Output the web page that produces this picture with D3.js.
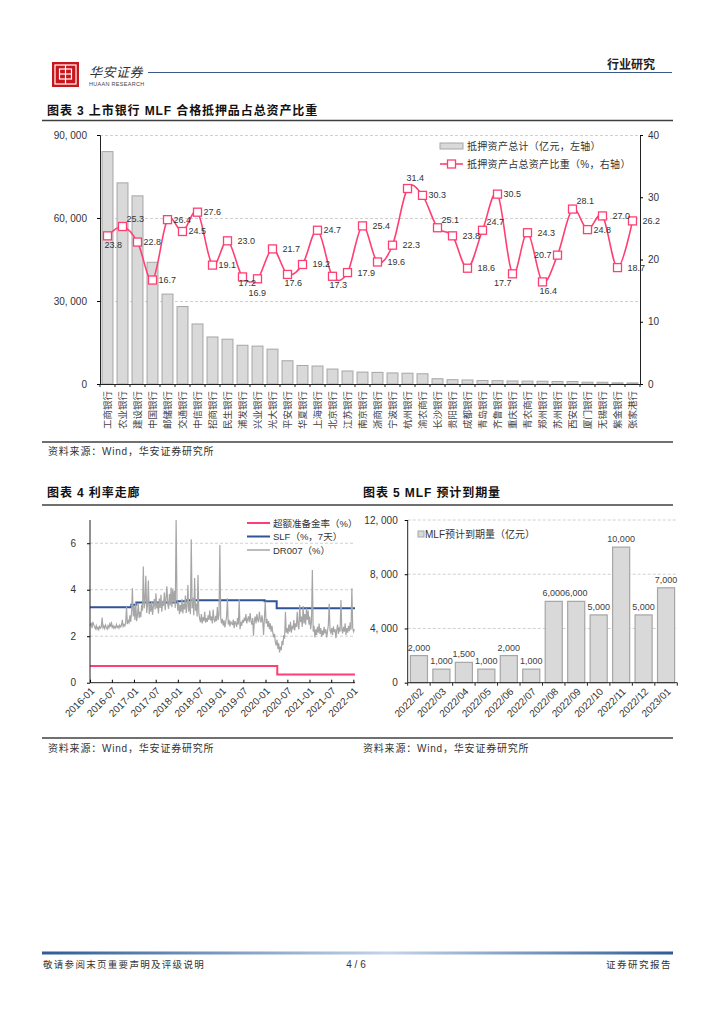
<!DOCTYPE html>
<html><head><meta charset="utf-8">
<script src="https://cdn.jsdelivr.net/npm/d3@7"></script>
<style>
body{margin:0;background:#fff}
svg{display:block}
text{font-family:"Liberation Sans",Arial,"Noto Sans CJK SC",sans-serif}
</style>
</head><body>
<svg id="c" width="724" height="1024"></svg>
<script>
// ---------- Chart 3 data ----------
const banks = ["工商银行","农业银行","建设银行","中国银行","邮储银行","交通银行","中信银行","招商银行","民生银行","浦发银行","兴业银行","光大银行","平安银行","华夏银行","上海银行","北京银行","江苏银行","南京银行","浙商银行","宁波银行","杭州银行","渝农商行","长沙银行","贵阳银行","成都银行","青岛银行","齐鲁银行","重庆银行","青农商行","郑州银行","苏州银行","西安银行","厦门银行","无锡银行","紫金银行","张家港行"];
const pledgeAssets = [84000,72700,68000,44000,32500,28000,21700,17000,16200,14000,13700,12600,8400,6700,6500,5400,4700,4300,4200,4000,3900,3700,1900,1550,1450,1250,1200,1100,1050,1000,900,880,650,620,420,400];
const pledgeRatio = [23.8,25.3,22.8,16.7,26.4,24.5,27.6,19.1,23.0,17.2,16.9,21.7,17.6,19.2,24.7,17.3,17.9,25.4,19.6,22.3,31.4,30.3,25.1,23.8,18.6,24.7,30.5,17.7,24.3,16.4,20.7,28.1,24.8,27.0,18.7,26.2];
const ratioLabelPlace = ["b","a","r","r","r","r","r","r","R","c","B","R","b","R","r","b","R","R","R","R","t","r","a","R","R","a","r","L","R","b","l","a","r","R","R","R"];
const leftTicks3 = [0,30000,60000,90000];
const rightTicks3 = [0,10,20,30,40];

// ---------- Chart 4 data ----------
const dr007FirstWeek = "2016-01-04";
const dr007Weekly = [
2.45,2.58,2.35,2.62,2.50,2.40,2.32,2.45,2.30,2.38,2.28,2.42,2.35,
2.40,2.80,2.36,2.44,2.33,2.48,2.38,2.30,2.45,2.36,2.52,2.40,2.62,
2.38,2.45,2.34,2.42,2.36,2.50,2.38,2.44,2.35,2.48,2.40,2.46,2.70,
2.42,2.50,2.44,2.58,3.27,2.52,2.66,2.58,2.90,2.62,3.05,4.06,2.85,
3.30,2.70,3.45,2.65,2.90,3.40,2.78,3.05,2.82,3.35,3.10,5.00,3.20,
3.55,4.60,3.00,3.35,4.40,2.95,3.40,3.05,3.50,2.92,3.30,3.60,3.15,
3.85,3.20,3.45,2.98,3.62,3.22,3.78,3.05,3.52,3.30,3.88,3.12,3.65,
4.15,3.40,3.18,3.82,3.32,4.10,3.25,4.05,3.45,3.95,3.22,7.00,3.60,
3.10,3.45,2.95,3.35,3.05,3.60,2.98,3.40,3.15,3.75,3.00,3.30,4.20,
3.05,3.50,2.95,6.17,3.20,3.65,2.90,4.50,3.10,3.40,2.85,4.63,3.00,
2.75,2.60,2.95,2.55,2.82,2.65,3.05,2.58,2.78,2.62,2.90,2.70,3.10,
2.68,2.85,2.55,3.15,2.72,2.60,2.88,2.65,3.25,2.70,2.95,5.92,2.80,
2.55,2.75,2.45,2.68,2.38,2.60,2.85,3.63,2.50,2.70,2.42,2.62,2.58,
2.48,2.72,2.35,2.65,2.55,2.40,2.78,2.50,3.60,2.30,2.62,2.45,2.70,
2.58,2.80,2.65,2.95,2.55,2.72,2.85,2.60,3.00,2.68,2.50,2.78,2.02,
2.65,2.85,2.55,2.95,2.70,2.60,3.05,2.75,2.58,2.90,2.65,2.05,2.80,
3.50,2.55,2.75,2.40,2.65,2.30,2.55,2.20,2.45,2.15,1.95,2.10,1.75,
1.60,1.85,1.45,1.70,1.30,1.55,1.40,1.80,1.62,2.05,1.90,3.05,2.15,
2.35,2.10,2.50,2.20,2.62,2.15,2.45,2.30,2.70,2.25,2.55,2.40,3.05,
2.45,2.30,3.35,2.60,2.85,2.40,3.30,2.55,2.95,2.50,3.20,2.70,3.10,
2.50,2.85,2.30,2.65,4.85,2.20,2.45,1.95,2.30,2.05,2.40,2.15,2.55,
2.10,2.35,1.98,2.25,2.05,2.40,2.12,2.30,1.95,2.20,2.48,3.40,2.25,
2.15,2.35,2.05,2.42,2.18,2.30,1.92,2.25,2.50,2.10,2.38,2.20,3.56,
2.30,2.12,2.40,2.20,2.55,2.05,2.35,2.15,2.45,2.22,2.60,2.28,4.06,
2.35,2.20,2.30];
const slfDates = ["2016-01-01","2016-12-10","2017-01-20","2017-12-25","2018-03-10","2019-12-25","2020-04-03","2022-01-15"];
const slfValues = [3.25,3.35,3.45,3.50,3.55,3.50,3.20,3.20];
const excessDates = ["2016-01-01","2020-04-08","2022-01-15"];
const excessValues = [0.72,0.35,0.35];
const yTicks4 = [0,2,4,6];

// ---------- Chart 5 data ----------
const mlfMonths = ["2022/02","2022/03","2022/04","2022/05","2022/06","2022/07","2022/08","2022/09","2022/10","2022/11","2022/12","2023/01"];
const mlfMaturity = [2000,1000,1500,1000,2000,1000,6000,6000,5000,10000,5000,7000];
const yTicks5 = [0,4000,8000,12000];

// ---------- drawing ----------
const svg = d3.select("#c");
const CJK = "'Noto Sans CJK SC','Liberation Sans',sans-serif";
const txt = "#222";
const pink = "#FF3F73";
const barFill = "#D9D9D9", barStroke = "#A6A6A6";
const thousands = d => d3.format(",")(d).replace(",", ", ");

// Header
const hdr = svg.append("g");
hdr.append("rect").attr("x",52).attr("y",62).attr("width",27).attr("height",25).attr("fill","#C8161D");
hdr.append("rect").attr("x",55).attr("y",65).attr("width",21).attr("height",19).attr("fill","none").attr("stroke","#fff").attr("stroke-width",1.2);
hdr.append("rect").attr("x",59.5).attr("y",69).attr("width",12).attr("height",10).attr("fill","none").attr("stroke","#fff").attr("stroke-width",1.2);
hdr.append("line").attr("x1",65.5).attr("x2",65.5).attr("y1",65).attr("y2",84).attr("stroke","#fff").attr("stroke-width",1.2);
hdr.append("line").attr("x1",59.5).attr("x2",71.5).attr("y1",74).attr("y2",74).attr("stroke","#fff").attr("stroke-width",1.2);
hdr.append("text").attr("x",89).attr("y",77).attr("font-family",CJK).attr("font-size",13).attr("font-style","italic").attr("fill","#333").attr("letter-spacing",0.5).text("华安证券");
hdr.append("text").attr("x",89).attr("y",86).attr("font-size",5.5).attr("fill","#444").attr("letter-spacing",0.3).text("HUAAN RESEARCH");
hdr.append("line").attr("x1",148).attr("x2",672).attr("y1",72.5).attr("y2",72.5).attr("stroke","#3B5A8C").attr("stroke-width",1);
hdr.append("text").attr("x",655).attr("y",69).attr("text-anchor","end").attr("font-family",CJK).attr("font-weight","bold").attr("font-size",12).attr("fill",txt).text("行业研究");

function sectionTitle(x, y, label){
  svg.append("text").attr("x",x).attr("y",y).attr("font-family",CJK).attr("font-weight","bold").attr("font-size",12).attr("letter-spacing",0.9).attr("fill","#111").text(label);
}
function rule(x1,x2,y,w){
  svg.append("line").attr("x1",x1).attr("x2",x2).attr("y1",y).attr("y2",y).attr("stroke","#404040").attr("stroke-width",w||1.5);
}
function source(x,y){
  svg.append("text").attr("x",x).attr("y",y).attr("font-family",CJK).attr("font-size",10).attr("letter-spacing",0.8).attr("fill","#333").text("资料来源：Wind，华安证券研究所");
}

// ===== Chart 3 =====
sectionTitle(47,115,"图表 3 上市银行 MLF 合格抵押品占总资产比重");
rule(42,673,120.5);
const x3 = d3.scaleBand(banks,[100,640]).paddingInner(0.27).paddingOuter(0.135);
const y3L = d3.scaleLinear([0,90000],[384,135]);
const y3R = d3.scaleLinear([0,40],[384,135]);
const g3 = svg.append("g");
g3.selectAll("line.grid").data(leftTicks3.filter(d=>d>0)).join("line")
  .attr("x1",100).attr("x2",640).attr("y1",d=>y3L(d)+0.5).attr("y2",d=>y3L(d)+0.5)
  .attr("stroke","#D0D0D0").attr("stroke-dasharray","3,2");
g3.selectAll("rect.bar").data(pledgeAssets).join("rect")
  .attr("x",(d,i)=>x3(banks[i])).attr("width",x3.bandwidth())
  .attr("y",d=>y3L(d)).attr("height",d=>y3L(0)-y3L(d))
  .attr("fill",barFill).attr("stroke",barStroke).attr("stroke-width",1);
const axL = g3.append("g").attr("transform","translate(100,0)")
  .call(d3.axisLeft(y3L).tickValues(leftTicks3).tickSize(3).tickPadding(10).tickFormat(thousands));
axL.select(".domain").attr("stroke","#222");
axL.selectAll("text").attr("font-size",10).attr("fill","#333");
const axR = g3.append("g").attr("transform","translate(640,0)")
  .call(d3.axisRight(y3R).tickValues(rightTicks3).tickSize(3).tickPadding(5));
axR.select(".domain").attr("stroke","#222");
axR.selectAll("text").attr("font-size",10).attr("fill","#333");
const axB = g3.append("g").attr("transform","translate(0,384)")
  .call(d3.axisBottom(x3).tickSize(0).tickPadding(6));
axB.select(".domain").attr("stroke","#222").attr("d","M100,0.5H640");
axB.selectAll(".tick text").attr("font-family",CJK).attr("font-size",9.5).attr("fill","#444")
  .attr("text-anchor","end").attr("transform","rotate(-90)").attr("x",-7).attr("y",0).attr("dy","0.35em");
g3.selectAll("line.btick").data(d3.range(banks.length+1)).join("line")
  .attr("x1",i=>100+i*x3.step()).attr("x2",i=>100+i*x3.step()).attr("y1",384).attr("y2",387).attr("stroke","#222");
const line3 = d3.line().x((d,i)=>x3(banks[i])+x3.bandwidth()/2).y(d=>y3R(d)).curve(d3.curveCardinal.tension(0));
g3.append("path").datum(pledgeRatio).attr("d",line3).attr("fill","none").attr("stroke",pink).attr("stroke-width",1.6);
g3.selectAll("rect.mk").data(pledgeRatio).join("rect")
  .attr("x",(d,i)=>x3(banks[i])+x3.bandwidth()/2-4).attr("y",d=>y3R(d)-4).attr("width",8).attr("height",8)
  .attr("fill","#fff").attr("stroke",pink).attr("stroke-width",1.3);
const place = {r:[6,3,"start"],R:[10,3,"start"],a:[4,-5,"start"],b:[-3,12,"start"],c:[-4,9,"start"],B:[-9,17,"start"],t:[-1,-8,"start"],l:[-6,3,"end"],L:[-1,12,"end"]};
g3.selectAll("text.lb").data(pledgeRatio).join("text")
  .attr("x",(d,i)=>x3(banks[i])+x3.bandwidth()/2+place[ratioLabelPlace[i]][0])
  .attr("y",(d,i)=>y3R(d)+place[ratioLabelPlace[i]][1])
  .attr("text-anchor",(d,i)=>place[ratioLabelPlace[i]][2])
  .attr("font-size",9).attr("fill","#333").text(d=>d3.format(".1f")(d));
g3.append("rect").attr("x",440).attr("y",143).attr("width",23).attr("height",6).attr("fill",barFill).attr("stroke",barStroke);
g3.append("text").attr("x",467).attr("y",150).attr("font-family",CJK).attr("font-size",10).attr("letter-spacing",0.3).attr("fill","#333").text("抵押资产总计（亿元，左轴）");
g3.append("line").attr("x1",440).attr("x2",463).attr("y1",164).attr("y2",164).attr("stroke",pink).attr("stroke-width",1.6);
g3.append("rect").attr("x",447.5).attr("y",160).attr("width",8).attr("height",8).attr("fill","#fff").attr("stroke",pink).attr("stroke-width",1.3);
g3.append("text").attr("x",467).attr("y",168).attr("font-family",CJK).attr("font-size",10).attr("letter-spacing",0.3).attr("fill","#333").text("抵押资产占总资产比重（%，右轴）");
rule(42,673,442);
source(48,455);

// ===== Chart 4 =====
sectionTitle(47,497,"图表 4 利率走廊");
sectionTitle(363,497,"图表 5 MLF 预计到期量");
rule(42,673,505);
const parse = d3.timeParse("%Y-%m-%d");
const x4 = d3.scaleTime([parse("2016-01-01"),parse("2022-01-15")],[90,355]);
const y4 = d3.scaleLinear([0,7],[682.7,520]);
const g4 = svg.append("g");
g4.selectAll("line.grid").data(yTicks4.filter(d=>d>0)).join("line")
  .attr("x1",90).attr("x2",355).attr("y1",d=>y4(d)).attr("y2",d=>y4(d))
  .attr("stroke","#D0D0D0").attr("stroke-dasharray","3,2");
const first = parse(dr007FirstWeek);
const dr = dr007Weekly.map((v,i)=>({d:d3.timeDay.offset(first,i*7),v}));
const slf = slfDates.map((s,i)=>({d:parse(s),v:slfValues[i]}));
const exr = excessDates.map((s,i)=>({d:parse(s),v:excessValues[i]}));
const stepLine = d3.line().x(p=>x4(p.d)).y(p=>y4(p.v)).curve(d3.curveStepAfter);
g4.append("path").datum(exr).attr("d",stepLine).attr("fill","none").attr("stroke",pink).attr("stroke-width",2);
g4.append("path").datum(slf).attr("d",stepLine).attr("fill","none").attr("stroke","#2F5597").attr("stroke-width",2);
g4.append("path").datum(dr).attr("d",d3.line().x(p=>x4(p.d)).y(p=>y4(p.v))).attr("fill","none").attr("stroke","#A6A6A6").attr("stroke-width",1.2);
const ax4L = g4.append("g").attr("transform","translate(90,0)")
  .call(d3.axisLeft(y4).tickValues(yTicks4).tickSize(3).tickPadding(11).tickFormat(d3.format("d")));
ax4L.select(".domain").attr("d","M0,520V682.7").attr("stroke","#222");
ax4L.selectAll("text").attr("font-size",10).attr("fill","#333");
const ax4B = g4.append("g").attr("transform","translate(0,682.7)")
  .call(d3.axisBottom(x4).ticks(d3.timeMonth.every(6)).tickSize(-3).tickFormat(d3.timeFormat("%Y-%m")));
ax4B.select(".domain").attr("d","M90,0H355").attr("stroke","#222");
ax4B.selectAll("text").attr("font-size",10).attr("fill","#333").attr("text-anchor","end")
  .attr("transform","rotate(-45)").attr("x",-3).attr("y",6).attr("dy","0.35em");
const leg4 = [["超额准备金率（%）",pink,2],["SLF（%，7天）","#2F5597",2],["DR007（%）","#A6A6A6",1.5]];
leg4.forEach((l,i)=>{
  const yy = 523 + i*13.5;
  g4.append("line").attr("x1",247).attr("x2",270).attr("y1",yy).attr("y2",yy).attr("stroke",l[1]).attr("stroke-width",l[2]);
  g4.append("text").attr("x",273).attr("y",yy+3.5).attr("font-family",CJK).attr("font-size",9.5).attr("fill","#333").text(l[0]);
});

// ===== Chart 5 =====
const x5 = d3.scaleBand(mlfMonths,[407.7,677.3]).paddingInner(0.24).paddingOuter(0.12);
const y5 = d3.scaleLinear([0,12000],[682.7,520]);
const g5 = svg.append("g");
g5.selectAll("line.grid").data(yTicks5.filter(d=>d>0)).join("line")
  .attr("x1",407.7).attr("x2",677.3).attr("y1",d=>y5(d)).attr("y2",d=>y5(d))
  .attr("stroke","#D0D0D0").attr("stroke-dasharray","3,2");
g5.selectAll("rect.bar").data(mlfMaturity).join("rect")
  .attr("x",(d,i)=>x5(mlfMonths[i])).attr("width",x5.bandwidth())
  .attr("y",d=>y5(d)).attr("height",d=>y5(0)-y5(d))
  .attr("fill",barFill).attr("stroke",barStroke).attr("stroke-width",1.2);
g5.selectAll("text.lb").data(mlfMaturity).join("text")
  .attr("x",(d,i)=>x5(mlfMonths[i])+x5.bandwidth()/2).attr("y",d=>y5(d)-5)
  .attr("text-anchor","middle").attr("font-size",9).attr("fill","#404040").text(d=>d3.format(",")(d));
const ax5L = g5.append("g").attr("transform","translate(407.7,0)")
  .call(d3.axisLeft(y5).tickValues(yTicks5).tickSize(3).tickPadding(7).tickFormat(thousands));
ax5L.select(".domain").attr("d","M0,520V682.7").attr("stroke","#222");
ax5L.selectAll("text").attr("font-size",10).attr("fill","#333");
const ax5B = g5.append("g").attr("transform","translate(0,682.7)")
  .call(d3.axisBottom(x5).tickSize(0));
ax5B.select(".domain").attr("d","M407.7,0H677.3").attr("stroke","#222");
ax5B.selectAll("text").attr("font-size",10).attr("fill","#333").attr("text-anchor","end")
  .attr("transform","rotate(-45)").attr("x",-3).attr("y",7).attr("dy","0.35em");
g5.selectAll("line.bt").data(d3.range(mlfMonths.length+1)).join("line")
  .attr("x1",i=>407.7+i*x5.step()).attr("x2",i=>407.7+i*x5.step()).attr("y1",682.7).attr("y2",685.7).attr("stroke","#222");
g5.append("rect").attr("x",418).attr("y",531).attr("width",6).attr("height",6).attr("fill",barFill).attr("stroke",barStroke);
g5.append("text").attr("x",425).attr("y",537.5).attr("font-family",CJK).attr("font-size",10).attr("fill","#333").text("MLF预计到期量（亿元）");

rule(42,673,738);
source(48,752);
source(363,752);

// Footer
const grad = svg.append("defs").append("linearGradient").attr("id","fg");
grad.append("stop").attr("offset","0%").attr("stop-color","#2E5C95");
grad.append("stop").attr("offset","55%").attr("stop-color","#C3D4EA");
grad.append("stop").attr("offset","100%").attr("stop-color","#2E5C95");
svg.append("rect").attr("x",42).attr("y",951.5).attr("width",631).attr("height",3).attr("fill","url(#fg)");
svg.append("text").attr("x",43).attr("y",968).attr("font-family",CJK).attr("font-size",9.5).attr("letter-spacing",1.3).attr("fill","#333").text("敬请参阅末页重要声明及评级说明");
svg.append("text").attr("x",356).attr("y",968).attr("text-anchor","middle").attr("font-size",10).attr("fill","#333").text("4 / 6");
svg.append("text").attr("x",672).attr("y",968).attr("text-anchor","end").attr("font-family",CJK).attr("font-size",9.5).attr("letter-spacing",1.5).attr("fill","#333").text("证券研究报告");
</script>
</body></html>
